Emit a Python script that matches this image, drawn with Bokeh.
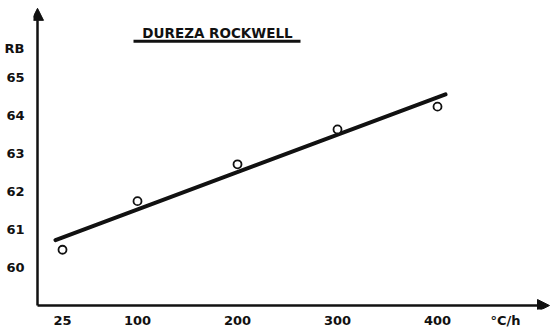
import numpy as np
from bokeh.plotting import figure
from bokeh.models import Range1d, Label, Arrow, NormalHead, FixedTicker
from bokeh.embed import file_html
from bokeh.resources import INLINE

# Cooling rate (°C/h) and Rockwell B hardness
rate = [25, 100, 200, 300, 400]
hardness = [60.47, 61.75, 62.72, 63.64, 64.24]

x_ticks = [25, 100, 200, 300, 400]
y_ticks = [60, 61, 62, 63, 64, 65]
x_unit_pos = 468
y_unit_pos = 65.78
fit_span = [18, 408]

FONT = "DejaVu Sans"
INK = "#111111"
PX_PER_UNIT = 38.2  # vertical pixels per hardness point
y_start = 59 - 4 / PX_PER_UNIT

p = figure(width=551, height=330, output_backend="svg", toolbar_location=None,
           x_range=Range1d(-4, 514), y_range=Range1d(y_start, y_start + 311 / PX_PER_UNIT),
           min_border_left=33, min_border_bottom=19, min_border_top=0,
           min_border_right=0)
p.outline_line_color = None
p.xgrid.visible = False
p.ygrid.visible = False
p.background_fill_color = "white"
p.border_fill_color = "white"

for ax in (p.xaxis[0], p.yaxis[0]):
    ax.axis_line_color = None
    ax.major_tick_line_color = None
    ax.minor_tick_line_color = None
    ax.major_tick_out = 0
    ax.major_tick_in = 0
    ax.minor_tick_out = 0
    ax.minor_tick_in = 0
    ax.axis_label_standoff = 0
    ax.major_label_text_font = FONT
    ax.major_label_text_font_style = "bold"
    ax.major_label_text_font_size = "13px"
    ax.major_label_text_color = INK

p.xaxis.ticker = FixedTicker(ticks=x_ticks + [x_unit_pos])
p.xaxis.major_label_overrides = {x_unit_pos: "°C/h"}
p.xaxis.major_label_standoff = 3
p.yaxis.ticker = FixedTicker(ticks=y_ticks + [y_unit_pos])
p.yaxis.major_label_overrides = {y_unit_pos: "RB"}
p.yaxis.major_label_standoff = 9

# Axes drawn as arrows
p.add_layout(Arrow(x_start=0, y_start=59, x_end=0, y_end=66.83,
                   line_width=2.5, line_color=INK,
                   end=NormalHead(size=12, fill_color=INK, line_color=INK)))
p.add_layout(Arrow(x_start=0, y_start=59, x_end=512, y_end=59,
                   line_width=2.5, line_color=INK,
                   end=NormalHead(size=12, fill_color=INK, line_color=INK)))

# Least-squares trend line
slope, intercept = np.polyfit(rate, hardness, 1)
fx = np.array(fit_span, dtype=float)
p.line(fx, intercept + slope * fx, line_width=4, line_color=INK, line_cap="round")

# Measured points
p.scatter(rate, hardness, marker="circle", size=8, fill_color="white",
          line_color=INK, line_width=1.8)

# Title with underline
p.add_layout(Label(x=180, y=66.17, text="DUREZA ROCKWELL", text_align="center",
                   text_baseline="middle", text_font=FONT, text_font_style="bold",
                   text_font_size="13.5px", text_color=INK))
p.add_layout(Arrow(x_start=96, y_start=65.96, x_end=263, y_end=65.96,
                   line_width=3, line_color=INK, end=None))

open("out.html", "w").write(file_html(p, INLINE))
